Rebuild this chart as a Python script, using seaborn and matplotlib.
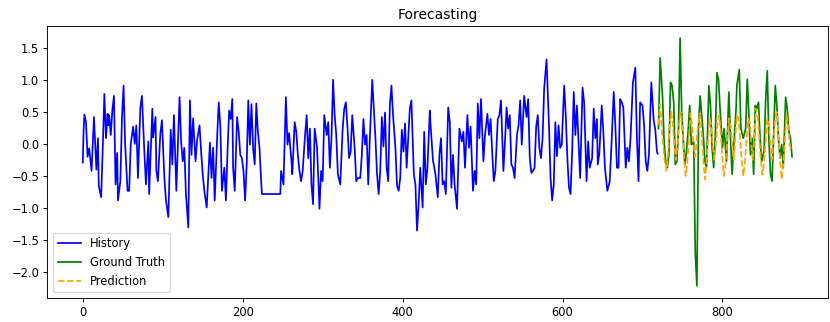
import matplotlib
matplotlib.use("Agg")
import matplotlib.pyplot as plt
import seaborn as sns
import numpy as np

# History (time index, value)
hist_t = [0, 1, 2, 4, 6, 8, 11, 14, 17, 19, 20, 23, 25, 27, 29, 31, 32, 33, 35, 37, 39, 41, 43, 44, 47, 49, 51, 53, 56, 58,
          60, 63, 65, 67, 69, 72, 74, 77, 79, 82, 83, 87, 88, 91, 92, 94, 97, 99, 102, 104, 107, 110, 112, 114, 117, 121, 123, 125, 127, 129,
          132, 134, 136, 138, 141, 143, 146, 148, 150, 152, 155, 159, 161, 163, 165, 168, 170, 172, 174, 177, 179, 181, 183, 185, 187, 188, 190, 193, 195, 197,
          199, 201, 203, 205, 207, 209, 211, 213, 215, 217, 219, 221, 222, 224, 247, 248, 251, 254, 256, 258, 261, 262, 265, 267, 269, 271, 273, 275, 278, 280,
          282, 284, 286, 288, 290, 293, 296, 298, 300, 302, 305, 307, 309, 311, 313, 315, 317, 319, 322, 325, 327, 329, 331, 333, 335, 337, 340, 342, 344, 347,
          349, 351, 353, 355, 357, 359, 362, 364, 366, 368, 370, 372, 374, 376, 378, 380, 382, 384, 386, 388, 391, 393, 395, 397, 399, 401, 403, 405, 407, 409,
          411, 414, 416, 418, 420, 422, 424, 425, 427, 429, 431, 434, 435, 438, 439, 441, 444, 446, 448, 450, 452, 454, 457, 459, 461, 463, 465, 468, 471, 474,
          476, 478, 481, 483, 485, 488, 490, 492, 494, 496, 498, 501, 503, 506, 508, 510, 512, 514, 516, 519, 521, 523, 526, 528, 530, 532, 534, 536, 538, 540,
          543, 545, 547, 549, 552, 555, 557, 559, 561, 563, 565, 567, 569, 571, 573, 575, 577, 580, 583, 585, 587, 589, 591, 593, 595, 597, 599, 602, 604, 606,
          608, 610, 612, 614, 616, 618, 620, 622, 625, 627, 630, 632, 634, 637, 639, 641, 643, 644, 646, 649, 651, 653, 656, 659, 661, 664, 666, 668, 670, 672,
          674, 676, 679, 681, 683, 685, 688, 691, 693, 695, 697, 700, 702, 704, 706, 708, 711, 714, 716, 718, 719]
hist_v = [-0.29, 0.19, 0.46, 0.34, -0.2, -0.07, -0.42, 0.42, -0.4, 0.09, -0.65, -0.83, -0.06, 0.78, 0.09, 0.47, 0.29, 0.45, 0.14, 0.53, 0.75, -0.63, -0.14, -0.88, -0.58, 0.40, 0.91, -0.01, -0.73, -0.73,
          0.0, 0.27, 0.0, 0.29, -0.53, 0.57, 0.75, -0.12, -0.63, 0.04, -0.78, 0.55, 0.1, 0.42, -0.42, -0.58, 0.16, 0.37, -0.52, -0.88, -1.14, 0.22, -0.32, 0.45, -0.73, 0.73, 0.04, -0.27, -0.06, -0.78,
          -1.3, 0.68, -0.17, 0.4, -0.27, 0.06, 0.29, -0.12, -0.47, -0.73, -0.99, 0.02, -0.53, -0.06, -0.88, 0.09, 0.65, 0.29, -0.73, -0.37, -0.88, -0.12, 0.52, 0.39, 0.7, -0.37, -0.73, 0.42, 0.19, -0.17,
          -0.22, -0.42, -0.88, -0.32, 0.68, -0.01, 0.62, -0.06, -0.32, 0.63, 0.19, -0.06, -0.32, -0.78, -0.78, -0.42, -0.63, 0.73, -0.01, 0.17, -0.27, -0.47, 0.34, 0.19, -0.17, -0.42, -0.58, -0.42, 0.14, 0.45,
          -0.22, 0.24, -0.63, -0.94, 0.24, -0.06, -1.01, -0.42, -0.58, 0.45, 0.14, 0.34, -0.37, 0.09, 1.0, 0.45, 0.14, -0.47, -0.63, 0.24, 0.55, 0.65, 0.27, -0.22, -0.12, 0.45, -0.06, -0.58, -0.53, -0.53,
          -0.17, 0.39, -0.01, 0.14, -0.63, 0.09, 1.0, 0.55, 0.09, -0.47, -0.78, -0.42, 0.42, -0.04, 0.49, -0.37, -0.58, 0.6, 0.91, 0.45, -0.06, -0.65, -0.73, -0.53, 0.22, -0.12, 0.32, -0.37, 0.09, 0.55,
          0.68, -0.47, -0.63, -1.35, -0.94, -0.37, -0.78, -0.99, 0.19, -0.63, -0.37, 0.52, 0.29, -0.27, -0.32, -0.47, -0.83, -0.17, 0.09, -0.63, -0.58, -0.78, 0.57, 0.34, -0.68, -0.17, -0.63, -1.01, 0.24, 0.04,
          0.19, -0.37, 0.45, -0.06, 0.27, -0.73, -0.42, -0.63, 0.63, 0.09, 0.7, -0.27, 0.14, 0.47, 0.14, 0.39, -0.12, -0.58, -0.42, 0.39, 0.45, 0.68, -0.42, 0.04, 0.57, 0.24, 0.45, -0.32, -0.37, -0.53,
          0.14, 0.29, 0.68, -0.01, 0.75, 0.42, 0.7, -0.22, -0.45, -0.42, -0.37, 0.27, 0.45, -0.06, -0.22, 0.09, 0.86, 1.32, 0.29, -0.53, -0.88, -0.63, 0.34, -0.19, 0.29, -0.06, -0.01, 0.91, 0.45, -0.22,
          -0.68, -0.78, -0.12, 0.81, 0.14, 0.6, 0.04, -0.53, 0.88, 0.65, -0.58, 0.04, -0.37, -0.22, 0.55, 0.09, 0.39, -0.32, -0.15, 0.6, 0.19, -0.37, -0.73, -0.58, -0.06, 0.81, 0.29, -0.37, -0.37, 0.7,
          0.65, 0.57, -0.37, -0.06, -0.27, 0.09, 0.96, 1.19, 0.09, -0.58, 0.65, 0.6, 0.29, -0.27, -0.42, -0.17, 0.96, 0.37, 0.22, -0.12, -0.15]

# Ground truth over the forecast horizon
truth_t = [720, 722, 725, 727, 729, 731, 733, 735, 737, 739, 741, 743, 745, 747, 749, 751, 753, 755, 757, 759, 761, 764, 766, 768,
           770, 772, 774, 776, 778, 780, 783, 785, 787, 789, 791, 793, 795, 797, 800, 802, 805, 808, 810, 812, 814, 817, 818, 821,
           823, 826, 829, 831, 833, 835, 837, 839, 841, 843, 845, 847, 849, 852, 854, 856, 858, 860, 862, 864, 866, 868, 870, 872,
           874, 876, 879, 881, 883, 885, 887]
truth_v = [0.24, 1.34, 0.75, 0.04, -0.27, -0.37, -0.17, 0.96, 0.91, 0.65, -0.32, -0.27, 0.24, 1.65, 0.5, 0.04, -0.32, -0.11, 0.19, 0.6, -0.01, 0.04, -1.7, -2.21,
           0.24, 0.75, 0.45, 0.14, -0.27, -0.37, 0.91, 0.6, -0.06, -0.37, 0.09, 1.11, 1.01, 0.55, -0.06, 0.24, -0.27, 0.81, 0.09, -0.47, -0.06, 0.55, 0.91, 1.16,
           0.24, 0.09, 0.24, 1.01, 0.45, -0.17, 0.09, -0.47, 0.6, 0.55, 0.65, 0.09, -0.27, -0.11, 0.7, 1.14, 0.09, -0.47, -0.58, 0.14, 0.91, 0.6, 0.09, -0.22,
           -0.01, -0.37, 0.73, 0.55, 0.19, 0.09, -0.2]

# Model prediction over the forecast horizon
pred_t = list(range(720, 888, 2))
pred_v = [0.30, 0.62, 0.25, -0.05, -0.30, -0.42, -0.15, 0.30, 0.50, 0.30, -0.05, -0.25, 0.05, 0.35, 0.50, 0.20, -0.20, -0.50, -0.30, 0.10,
          0.48, 0.30, -0.05, -0.20, 0.10, 0.35, 0.48, 0.15, -0.25, -0.55, -0.30, 0.05, 0.40, 0.30, -0.05, -0.25, 0.05, 0.35, 0.45, 0.15,
          -0.25, -0.50, -0.30, 0.05, 0.40, 0.30, 0.00, -0.25, 0.10, 0.45, 0.40, 0.10, -0.25, -0.50, -0.30, 0.05, 0.40, 0.35, 0.00, -0.25,
          0.15, 0.55, 0.45, 0.10, -0.25, -0.48, -0.30, 0.05, 0.40, 0.30, 0.00, -0.25, 0.10, 0.40, 0.50, 0.15, -0.25, -0.55, -0.30, 0.05,
          0.45, 0.30, 0.00, -0.10]

# Figure drawn at 1000x388 logical size and rendered at 83 dpi -> 830x322 pixels
fig, ax = plt.subplots(figsize=(10, 3.88), dpi=83)
fig.subplots_adjust(left=0.057, right=0.997, top=0.92, bottom=0.074)

sns.lineplot(x=hist_t, y=hist_v, ax=ax, color="blue", label="History", linewidth=1.5)
sns.lineplot(x=truth_t, y=truth_v, ax=ax, color="green", label="Ground Truth", linewidth=1.5)
sns.lineplot(x=pred_t, y=pred_v, ax=ax, color="orange", label="Prediction", linewidth=1.5, linestyle="--")

ax.set_title("Forecasting")
ax.set_xlabel("")
ax.set_ylabel("")
ax.legend(loc="lower left")
ax.set_xticks([0, 200, 400, 600, 800])

fig.savefig("out.png", dpi=83)
